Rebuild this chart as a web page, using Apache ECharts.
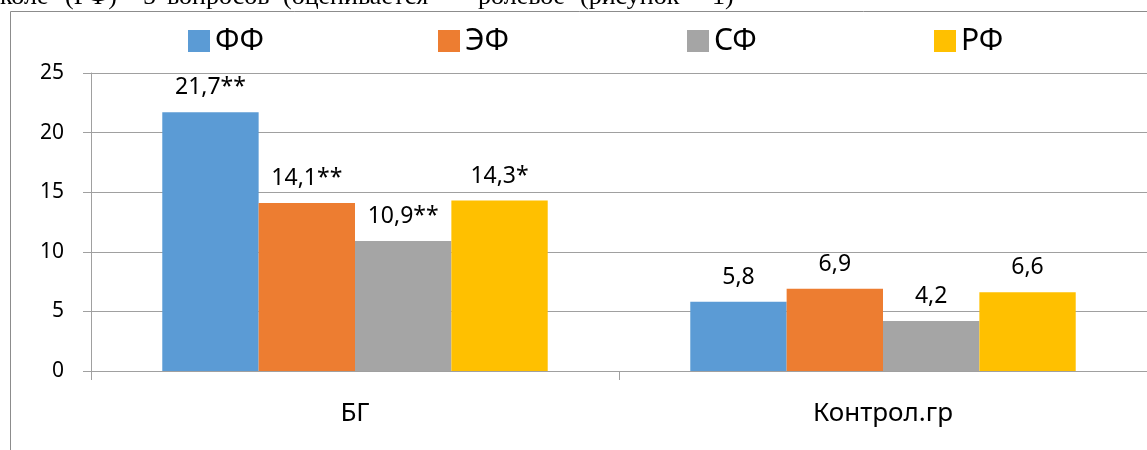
<!DOCTYPE html>
<html>
<head>
<meta charset="utf-8">
<script src="https://cdn.jsdelivr.net/npm/echarts@6/dist/echarts.min.js"></script>
<style>
  html, body { margin: 0; padding: 0; background: #fff; }
  #main { width: 1147px; height: 450px; }
</style>
</head>
<body>
<div id="main"></div>
<script>
  // группы и показатели
  var groups = ['БГ', 'Контрол.гр'];
  var seriesNames = ['ФФ', 'ЭФ', 'СФ', 'РФ'];
  var colors = ['#5B9BD5', '#ED7D31', '#A5A5A5', '#FFC000'];
  var valFF = [21.7, 5.8];
  var valEF = [14.1, 6.9];
  var valSF = [10.9, 4.2];
  var valRF = [14.3, 6.6];
  var labFF = ['21,7**', '5,8'];
  var labEF = ['14,1**', '6,9'];
  var labSF = ['10,9**', '4,2'];
  var labRF = ['14,3*', '6,6'];
  var yTicks = [0, 5, 10, 15, 20, 25];

  var font = '"Noto Sans", "Open Sans", sans-serif';
  var allVals = [valFF, valEF, valSF, valRF];
  var allLabs = [labFF, labEF, labSF, labRF];
  var legendLeft = [183, 433, 682, 929];

  var series = seriesNames.map(function (name, i) {
    return {
      name: name,
      type: 'bar',
      barGap: '0%',
      barCategoryGap: '27%',
      itemStyle: { color: colors[i] },
      label: {
        show: true,
        position: 'top',
        distance: 13,
        color: '#000',
        fontFamily: font,
        fontSize: 23,
        formatter: function (p) { return allLabs[i][p.dataIndex]; }
      },
      data: allVals[i]
    };
  });

  // каждая подпись легенды отдельно, чтобы расставить как в оригинале
  var legends = seriesNames.map(function (name, i) {
    return {
      data: [name],
      left: legendLeft[i],
      top: 21,
      itemWidth: 22,
      itemHeight: 22,
      icon: 'rect',
      textStyle: { fontFamily: font, fontSize: 30, color: '#000' }
    };
  });

  // обрезанная строка текста над диаграммой
  var topWords = [
    ['коле', 0], ['(РФ)', 65], ['–', 127], ['5', 143], ['вопросов', 167],
    ['(оценивается', 283], ['ролевое', 478], ['(рисунок', 580], ['1)', 712]
  ];
  var graphics = topWords.map(function (w) {
    return {
      type: 'text', left: w[1], top: -16, silent: true,
      style: { text: w[0], font: '26px "Liberation Serif", serif', fill: '#000' }
    };
  });
  graphics.push({
    type: 'rect', silent: true,
    shape: { x: 10.5, y: 11.5, width: 1200, height: 600 },
    style: { fill: 'none', stroke: '#8c8c8c', lineWidth: 1 }
  });

  var myChart = echarts.init(document.getElementById('main'));
  var option = {
    animation: false,
    color: colors,
    graphic: graphics,
    legend: legends,
    grid: { left: 91, right: -2, top: 73, bottom: 79 },
    xAxis: {
      type: 'category',
      data: groups,
      axisLine: { lineStyle: { color: '#a0a0a0', width: 1 } },
      axisTick: { show: true, length: 9, lineStyle: { color: '#a0a0a0' } },
      axisLabel: { color: '#000', fontFamily: font, fontSize: 26, margin: 30 }
    },
    yAxis: {
      type: 'value',
      min: yTicks[0],
      max: yTicks[yTicks.length - 1],
      interval: 5,
      axisLine: { show: true, lineStyle: { color: '#a0a0a0' } },
      axisTick: { show: true, length: 8, lineStyle: { color: '#a0a0a0' } },
      splitLine: { lineStyle: { color: '#a0a0a0', width: 1 } },
      axisLabel: { color: '#000', fontFamily: font, fontSize: 21, margin: 27 }
    },
    series: series
  };
  myChart.setOption(option);
</script>
</body>
</html>
